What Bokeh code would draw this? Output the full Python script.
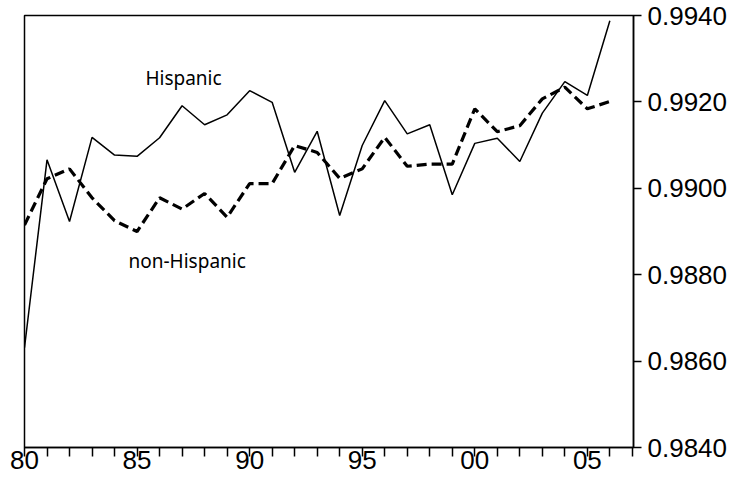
from bokeh.plotting import figure
from bokeh.models import FixedTicker, Label, Range1d
from bokeh.embed import file_html
from bokeh.resources import INLINE

years = list(range(1980, 2007))
hispanic = [0.98631, 0.99066, 0.98923, 0.99118, 0.99077, 0.99074, 0.99117, 0.99191,
            0.99147, 0.99170, 0.99226, 0.99199, 0.99037, 0.99132, 0.98937, 0.99099,
            0.99203, 0.99126, 0.99147, 0.98985, 0.99104, 0.99116, 0.99062, 0.99174,
            0.99247, 0.99215, 0.99388]
non_hispanic = [0.98915, 0.99022, 0.99045, 0.98978, 0.98925, 0.98900, 0.98978, 0.98952,
                0.98988, 0.98933, 0.99011, 0.99011, 0.99099, 0.99083, 0.99023, 0.99045,
                0.99118, 0.99051, 0.99056, 0.99056, 0.99184, 0.99131, 0.99145, 0.99207,
                0.99234, 0.99184, 0.99201]
x_ticks = list(range(1980, 2008))
x_labels = {1980: "80", 1985: "85", 1990: "90", 1995: "95", 2000: "00", 2005: "05"}
y_ticks = [0.9840, 0.9860, 0.9880, 0.9900, 0.9920, 0.9940]
y_labels = {v: f"{v:.4f}" for v in y_ticks}

FONT = "Noto Sans"
AXIS_FONT = "Liberation Sans"

p = figure(width=732, height=486, output_backend="svg", toolbar_location=None,
           x_range=Range1d(1980, 2007.05), y_range=Range1d(0.9840, 0.9940),
           y_axis_location="right", min_border_left=24, min_border_top=15,
           min_border_right=99, min_border_bottom=39)
p.grid.visible = False
p.background_fill_color = "white"
p.border_fill_color = "white"
p.outline_line_color = "black"
p.outline_line_width = 1.5

p.line(years, hispanic, line_color="black", line_width=1.5)
p.line(years, non_hispanic, line_color="black", line_width=3.2, line_dash="10 5")

xa = p.xaxis[0]
xa.ticker = FixedTicker(ticks=x_ticks)
xa.major_label_overrides = {t: x_labels.get(t, "") for t in x_ticks}
xa.major_tick_out = 9
xa.major_tick_in = 0
xa.minor_tick_out = 0
xa.minor_tick_in = 0
xa.major_label_standoff = -6

ya = p.yaxis[0]
ya.ticker = FixedTicker(ticks=y_ticks)
ya.major_label_overrides = y_labels
ya.major_tick_out = 8
ya.major_tick_in = 0
ya.minor_tick_out = 0
ya.minor_tick_in = 0
ya.major_label_standoff = 6

for ax in (xa, ya):
    ax.axis_line_color = "black"
    ax.axis_line_width = 1.5
    ax.major_tick_line_color = "black"
    ax.major_tick_line_width = 1.5
    ax.major_label_text_font = AXIS_FONT
    ax.major_label_text_font_size = "26px"
    ax.major_label_text_color = "black"

p.add_layout(Label(x=1985.37, y=0.99256, text="Hispanic", text_font=FONT,
                   text_font_size="19px", text_color="black", text_baseline="alphabetic"))
p.add_layout(Label(x=1984.62, y=0.98832, text="non-Hispanic", text_font=FONT,
                   text_font_size="19px", text_color="black", text_baseline="alphabetic"))

open("out.html", "w").write(file_html(p, INLINE))
